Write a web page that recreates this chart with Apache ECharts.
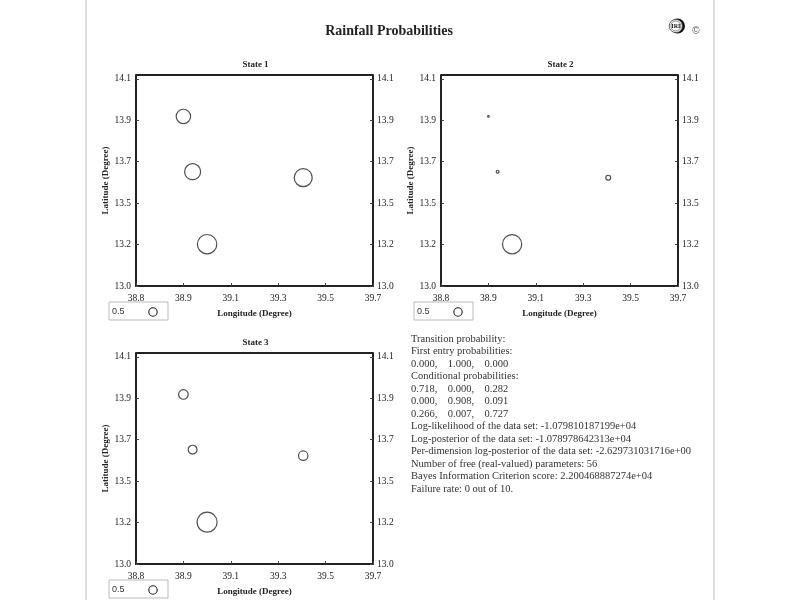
<!DOCTYPE html>
<html>
<head>
<meta charset="utf-8">
<script src="https://cdn.jsdelivr.net/npm/echarts@6/dist/echarts.min.js"></script>
<style>html,body{margin:0;padding:0;background:#fff}#c{width:800px;height:600px}</style>
</head>
<body>
<div id="c"></div>
<script>
// ---- data ----
const lon = [38.98, 39.015, 39.435, 39.07];
const lat = [13.90, 13.607, 13.575, 13.222];
const stateNames = ['State 1', 'State 2', 'State 3'];
const state1 = [0.72, 0.80, 0.90, 0.97];
const state2 = [0.08, 0.14, 0.24, 0.96];
const state3 = [0.48, 0.44, 0.47, 1.00];
const xTickLabels = ['38.8', '38.9', '39.1', '39.3', '39.5', '39.7'];
const yTickLabels = ['13.0', '13.2', '13.5', '13.7', '13.9', '14.1'];
const legendValue = 0.5;
const firstEntry = [0.000, 1.000, 0.000];
const conditional = [[0.718, 0.000, 0.282], [0.000, 0.908, 0.091], [0.266, 0.007, 0.727]];
const logLikelihood = '-1.079810187199e+04';
const logPosterior = '-1.078978642313e+04';
const perDimLogPosterior = '-2.629731031716e+00';
const freeParams = 56;
const bicScore = '2.200468887274e+04';
const failures = [0, 10];

// ---- axis config ----
const X_MIN = 38.8, X_MAX = 39.7, X_STEP = 0.18;
const Y_MIN = 13.0, Y_MAX = 14.12, Y_STEP = 0.22;
function tickFmt(min, step, labels) {
  return function (v) {
    const i = Math.round((v - min) / step);
    if (i < 0 || i >= labels.length || Math.abs(v - (min + i * step)) > 1e-6) return '';
    return labels[i];
  };
}
const SERIF = '"Liberation Serif", "DejaVu Serif", serif';
const SANS = '"Liberation Sans", "DejaVu Sans", sans-serif';
const SIZE_SCALE = 20;

const grids = [
  { left: 136, top: 75, width: 237, height: 211 },
  { left: 441, top: 75, width: 237, height: 211 },
  { left: 136, top: 353, width: 237, height: 211 }
];
const states = [state1, state2, state3];

const labelStyle = { fontFamily: SERIF, fontSize: 9.5, color: '#222' };
const xAxes = [], yAxes = [], series = [], titles = [], graphics = [];

titles.push({
  text: 'Rainfall Probabilities', left: 384, top: 19, textAlign: 'center',
  textStyle: { fontFamily: SERIF, fontSize: 14, fontWeight: 'bold', color: '#222' }
});

grids.forEach((g, k) => {
  xAxes.push({
    gridIndex: k, type: 'value', min: X_MIN, max: X_MAX, interval: X_STEP,
    name: 'Longitude (Degree)', nameLocation: 'middle', nameGap: 23,
    nameTextStyle: { fontFamily: SERIF, fontSize: 9, fontWeight: 'bold', color: '#222' },
    axisLine: { show: true, lineStyle: { color: '#222', width: 2 } },
    axisTick: { show: true, inside: true, length: 3, lineStyle: { color: '#444' } },
    axisLabel: Object.assign({ margin: 7, formatter: tickFmt(X_MIN, X_STEP, xTickLabels) }, labelStyle),
    splitLine: { show: false }
  });
  yAxes.push({
    gridIndex: k, type: 'value', position: 'left', min: Y_MIN, max: Y_MAX, interval: Y_STEP,
    name: 'Latitude (Degree)', nameLocation: 'middle', nameGap: 23,
    nameTextStyle: { fontFamily: SERIF, fontSize: 9, fontWeight: 'bold', color: '#222' },
    axisLine: { show: true, onZero: false, lineStyle: { color: '#222', width: 2 } },
    axisTick: { show: true, inside: true, length: 3, lineStyle: { color: '#444' } },
    axisLabel: Object.assign({ margin: 5, formatter: tickFmt(Y_MIN, Y_STEP, yTickLabels) }, labelStyle),
    splitLine: { show: false }
  });
  yAxes.push({
    gridIndex: k, type: 'value', position: 'right', min: Y_MIN, max: Y_MAX, interval: Y_STEP,
    axisLine: { show: true, onZero: false, lineStyle: { color: '#222', width: 2 } },
    axisTick: { show: true, inside: true, length: 3, lineStyle: { color: '#444' } },
    axisLabel: Object.assign({ margin: 4, formatter: tickFmt(Y_MIN, Y_STEP, yTickLabels) }, labelStyle),
    splitLine: { show: false }
  });
  series.push({
    type: 'scatter', xAxisIndex: k, yAxisIndex: k * 2,
    data: lon.map((x, i) => [x, lat[i], states[k][i]]),
    symbol: 'circle',
    symbolSize: d => d[2] * SIZE_SCALE,
    itemStyle: { color: 'rgba(255,255,255,0)', borderColor: '#222', borderWidth: 1.2 },
    emphasis: { disabled: true },
    silent: true
  });
  titles.push({
    text: stateNames[k], left: g.left + g.width / 2 - 4, top: g.top - 20, textAlign: 'center',
    textStyle: { fontFamily: SERIF, fontSize: 9, fontWeight: 'bold', color: '#222' }
  });
  // legend box under each panel
  const lx = g.left - 27, ly = g.top + g.height + 16;
  graphics.push({ type: 'rect', shape: { x: lx, y: ly, width: 59, height: 18 }, style: { fill: '#fff', stroke: '#bbb', lineWidth: 1 }, z: 10 });
  graphics.push({ type: 'text', x: lx + 3, y: ly + 10, style: { text: String(legendValue), font: '9px ' + SANS, fill: '#333', textVerticalAlign: 'middle' }, z: 11 });
  graphics.push({ type: 'circle', shape: { cx: lx + 44, cy: ly + 10, r: legendValue * SIZE_SCALE * 0.42 }, style: { fill: 'none', stroke: '#222', lineWidth: 1.1 }, z: 11 });
  // top border
  graphics.push({ type: 'line', shape: { x1: g.left, y1: g.top, x2: g.left + g.width, y2: g.top }, style: { stroke: '#222', lineWidth: 2 }, z: 5 });
});

// statistics text
const f3 = v => v.toFixed(3);
const lines = [
  'Transition probability:',
  'First entry probabilities:',
  firstEntry.map(f3).join(',    '),
  'Conditional probabilities:'
].concat(conditional.map(r => r.map(f3).join(',    '))).concat([
  'Log-likelihood of the data set: ' + logLikelihood,
  'Log-posterior of the data set: ' + logPosterior,
  'Per-dimension log-posterior of the data set: ' + perDimLogPosterior,
  'Number of free (real-valued) parameters: ' + freeParams,
  'Bayes Information Criterion score: ' + bicScore,
  'Failure rate: ' + failures[0] + ' out of ' + failures[1] + '.'
]);
lines.forEach((t, i) => {
  graphics.push({ type: 'text', x: 411, y: 339 + i * 12.5, style: { text: t, font: '10.5px ' + SERIF, fill: '#333', textVerticalAlign: 'middle' } });
});

// page rules
graphics.push({ type: 'rect', shape: { x: 85, y: 0, width: 2, height: 600 }, style: { fill: '#ddd' } });
graphics.push({ type: 'rect', shape: { x: 713, y: 0, width: 2, height: 600 }, style: { fill: '#ddd' } });
// IRI logo
graphics.push({ type: 'circle', shape: { cx: 677.5, cy: 26, r: 7.5 }, style: { fill: '#111' } });
graphics.push({ type: 'circle', shape: { cx: 675.8, cy: 26, r: 6.6 }, style: { fill: '#fff', stroke: '#444', lineWidth: 0.8 } });
graphics.push({ type: 'circle', shape: { cx: 675.8, cy: 26, r: 5 }, style: { fill: '#fff', stroke: '#444', lineWidth: 0.6 } });
graphics.push({ type: 'text', x: 675.8, y: 26.3, style: { text: 'IRI', font: 'bold 6px ' + SERIF, fill: '#111', textAlign: 'center', textVerticalAlign: 'middle' } });
graphics.push({ type: 'text', x: 696, y: 31, style: { text: '©', font: '10px ' + SANS, fill: '#555', textAlign: 'center', textVerticalAlign: 'middle' } });

const chart = echarts.init(document.getElementById('c'), null, { renderer: 'canvas' });
chart.setOption({
  backgroundColor: '#fff',
  animation: false,
  title: titles,
  grid: grids,
  xAxis: xAxes,
  yAxis: yAxes,
  series: series,
  graphic: graphics
});
</script>
</body>
</html>
